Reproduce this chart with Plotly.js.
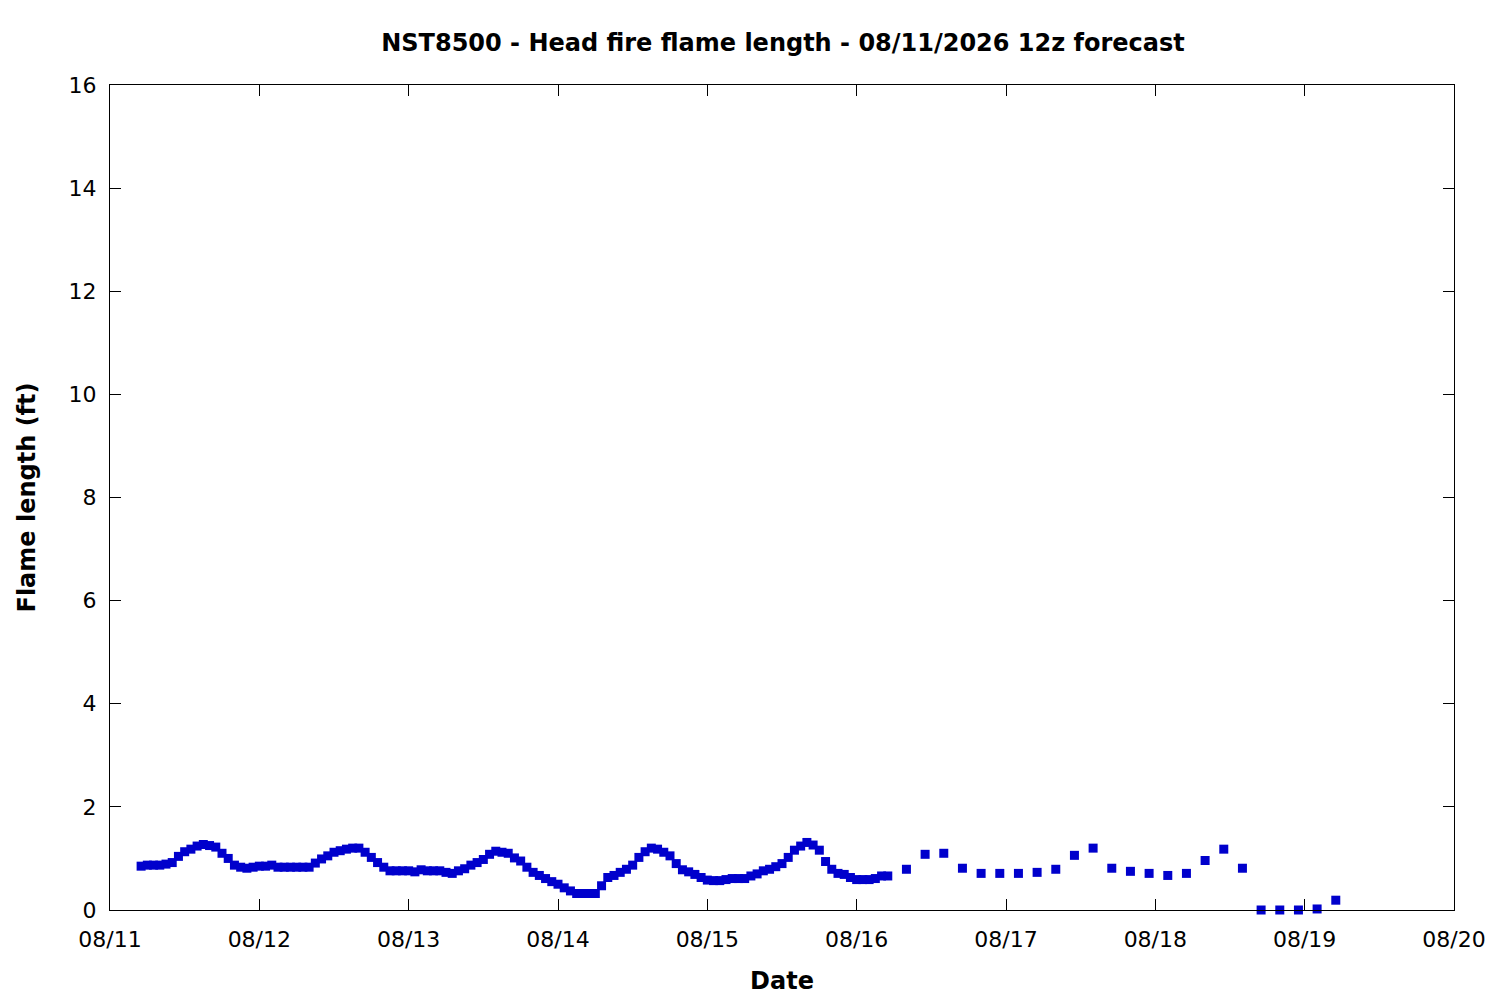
<!DOCTYPE html>
<html>
<head>
<meta charset="utf-8">
<script src="https://cdn.plot.ly/plotly-3.0.1.min.js"></script>
<style>
  html, body { margin: 0; padding: 0; background: #ffffff; }
  #chart { width: 1500px; height: 1000px; }
</style>
</head>
<body>
<div id="chart"></div>
<script>
// Hourly forecast, 08/11 05:00 .. 08/16 05:00
const hourlyStart = '2026-08-11T05:00';
const hourlyFlame = [
  0.85, 0.87, 0.87, 0.87, 0.89, 0.92, 1.04, 1.13, 1.18, 1.24,
  1.27, 1.25, 1.22, 1.10, 1.00, 0.87, 0.83, 0.81, 0.83, 0.85,
  0.85, 0.87, 0.83, 0.83, 0.83, 0.83, 0.83, 0.83, 0.91, 0.99,
  1.05, 1.12, 1.15, 1.18, 1.20, 1.20, 1.12, 1.02, 0.92, 0.83,
  0.76, 0.76, 0.76, 0.76, 0.74, 0.78, 0.76, 0.76, 0.76, 0.73,
  0.71, 0.76, 0.80, 0.87, 0.92, 0.98, 1.08, 1.14, 1.12, 1.10,
  1.01, 0.95, 0.83, 0.73, 0.67, 0.61, 0.55, 0.50, 0.43, 0.37,
  0.32, 0.32, 0.32, 0.32, 0.47, 0.63, 0.67, 0.73, 0.79, 0.87,
  1.02, 1.13, 1.20, 1.18, 1.12, 1.05, 0.90, 0.78, 0.74, 0.69,
  0.63, 0.58, 0.57, 0.57, 0.59, 0.61, 0.61, 0.61, 0.66, 0.70,
  0.76, 0.79, 0.84, 0.90, 1.02, 1.16, 1.24, 1.31, 1.26, 1.16,
  0.94, 0.79, 0.71, 0.69, 0.63, 0.59, 0.59, 0.59, 0.61, 0.66,
  0.66
];

// 3-hourly forecast, 08/16 08:00 .. 08/19 05:00
const threeHourlyStart = '2026-08-16T08:00';
const threeHourlyFlame = [
  0.79, 1.08, 1.10, 0.81, 0.71, 0.71, 0.71, 0.73, 0.79, 1.06,
  1.20, 0.81, 0.75, 0.71, 0.67, 0.71, 0.96, 1.18, 0.81, 0.00,
  0.00, 0.00, 0.02, 0.19
];

const titleText = 'NST8500 - Head fire flame length - 08/11/2026 12z forecast';
const xLabel = 'Date';
const yLabel = 'Flame length (ft)';

// build time stamps from a start time and a step in hours
function timeSeries(start, stepHours, count) {
    const t0 = Date.parse(start + ':00Z');
    const out = [];
    for (let i = 0; i < count; i++) {
        const d = new Date(t0 + i * stepHours * 3600000);
        out.push(d.toISOString().slice(0, 16).replace('T', ' '));
    }
    return out;
}

const times = timeSeries(hourlyStart, 1, hourlyFlame.length)
    .concat(timeSeries(threeHourlyStart, 3, threeHourlyFlame.length));
const flame = hourlyFlame.concat(threeHourlyFlame);

const font = 'DejaVu Sans, Verdana, sans-serif';

const trace = {
    type: 'scatter',
    mode: 'markers',
    x: times,
    y: flame,
    cliponaxis: false,
    marker: { symbol: 'square', size: 9, color: '#0000cc' },
    hoverinfo: 'x+y'
};

const layout = {
    width: 1500,
    height: 1000,
    margin: { l: 110, r: 46, t: 85, b: 90 },
    paper_bgcolor: '#ffffff',
    plot_bgcolor: '#ffffff',
    showlegend: false,
    font: { family: font, size: 22, color: '#000000' },
    title: {
        text: '<b>' + titleText + '</b>',
        font: { family: font, size: 24, color: '#000000' },
        x: 0.522, xanchor: 'center',
        y: 0.957, yanchor: 'middle'
    },
    xaxis: {
        type: 'date',
        range: ['2026-08-11 00:00', '2026-08-20 00:00'],
        tick0: '2026-08-11',
        dtick: 86400000,
        tickformat: '%m/%d',
        ticks: 'inside',
        ticklen: 11,
        tickwidth: 1,
        tickcolor: '#000000',
        ticklabelstandoff: 10,
        showline: true,
        linecolor: '#000000',
        linewidth: 1,
        mirror: 'ticks',
        showgrid: false,
        zeroline: false,
        tickfont: { family: font, size: 22 },
        title: { text: '<b>' + xLabel + '</b>', font: { family: font, size: 24 }, standoff: 20 }
    },
    yaxis: {
        range: [0, 16],
        dtick: 2,
        ticks: 'inside',
        ticklen: 11,
        tickwidth: 1,
        tickcolor: '#000000',
        ticklabelstandoff: 8,
        showline: true,
        linecolor: '#000000',
        linewidth: 1,
        mirror: 'ticks',
        showgrid: false,
        zeroline: false,
        tickfont: { family: font, size: 22 },
        title: { text: '<b>' + yLabel + '</b>', font: { family: font, size: 24 }, standoff: 26 }
    }
};

Plotly.newPlot('chart', [trace], layout, { displayModeBar: false, staticPlot: true });
</script>
</body>
</html>
